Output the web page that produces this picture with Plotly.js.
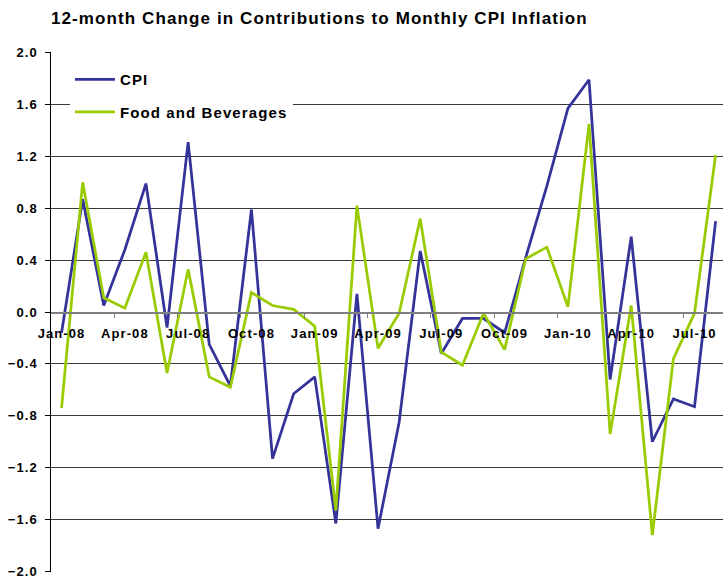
<!DOCTYPE html>
<html>
<head>
<meta charset="utf-8">
<script src="https://cdn.plot.ly/plotly-3.0.1.min.js"></script>
<style>
html, body { margin: 0; padding: 0; background: #fff; }
#chart { width: 723px; height: 579px; }
text { letter-spacing: 1.1px; }
</style>
</head>
<body>
<div id="chart"></div>
<script>
var months = ["Jan-08","Feb-08","Mar-08","Apr-08","May-08","Jun-08","Jul-08","Aug-08","Sep-08","Oct-08","Nov-08","Dec-08",
              "Jan-09","Feb-09","Mar-09","Apr-09","May-09","Jun-09","Jul-09","Aug-09","Sep-09","Oct-09","Nov-09","Dec-09",
              "Jan-10","Feb-10","Mar-10","Apr-10","May-10","Jun-10","Jul-10","Aug-10"];
var cpi  = [-0.16, 0.87, 0.05, 0.48, 0.99, -0.12, 1.31, -0.25, -0.57, 0.79, -1.13, -0.63,
            -0.50, -1.63, 0.14, -1.67, -0.85, 0.47, -0.32, -0.05, -0.05, -0.16, 0.42, 0.97,
             1.57, 1.79, -0.52, 0.58, -1.00, -0.67, -0.73, 0.70];
var food = [-0.74, 1.00, 0.11, 0.03, 0.46, -0.47, 0.33, -0.50, -0.58, 0.15, 0.05, 0.02,
            -0.11, -1.53, 0.82, -0.28, -0.01, 0.72, -0.31, -0.41, -0.01, -0.29, 0.41, 0.50,
             0.04, 1.45, -0.94, 0.05, -1.72, -0.36, -0.01, 1.21];
var seriesNames = ["CPI", "Food and Beverages"];
var titleText = "12-month Change in Contributions to Monthly CPI Inflation";

var idx = months.map(function (m, i) { return i; });
var tickIdx = idx.filter(function (i) { return i % 3 === 0; });
var tickText = tickIdx.map(function (i) { return months[i]; });
var boundIdx = idx.filter(function (i) { return i % 3 === 2 && i < months.length - 1; }).map(function (i) { return i + 0.5; });

var fontFam = "Arial, 'Liberation Sans', sans-serif";

var traces = [
  { x: idx, y: cpi, name: seriesNames[0], type: "scatter", mode: "lines",
    line: { color: "#333399", width: 2.75 }, legendgroup: "a", hoverinfo: "x+y" },
  { x: idx, y: food, name: seriesNames[1], type: "scatter", mode: "lines",
    line: { color: "#99CC00", width: 2.75 }, legendgroup: "b", hoverinfo: "x+y" }
];

var layout = {
  width: 723, height: 579,
  margin: { l: 51, r: 0, t: 52, b: 7, pad: 0 },
  paper_bgcolor: "#ffffff", plot_bgcolor: "#ffffff",
  font: { family: fontFam, size: 13, color: "#000000", weight: 700 },
  title: { text: titleText, x: 0, xanchor: "left", xref: "paper",
           y: 1 - 18 / 579, yanchor: "middle", yref: "container",
           font: { family: fontFam, size: 17, weight: 700, color: "#000000" } },
  showlegend: true,
  legend: { x: (70 - 51) / 672, y: 1 - (63 - 52) / 520, xanchor: "left", yanchor: "top",
            bgcolor: "#ffffff", borderwidth: 0, traceorder: "grouped", tracegroupgap: 10,
            itemwidth: 40,
            font: { family: fontFam, size: 15, weight: 700, color: "#000000" } },
  xaxis: {
    type: "linear", range: [-0.5, 31.35], anchor: "free", position: 0.5,
    showgrid: false, zeroline: false, showline: true, linecolor: "#808080", linewidth: 1.5,
    tickmode: "array", tickvals: tickIdx, ticktext: tickText, ticks: "", ticklabelstandoff: 9,
    minor: { tickmode: "array", tickvals: boundIdx, ticks: "outside", ticklen: 4, tickcolor: "#808080", tickwidth: 1, showgrid: false },
    tickfont: { family: fontFam, size: 13, weight: 700, color: "#000000" },
    fixedrange: true
  },
  yaxis: {
    range: [-2.004, 2.004], tickmode: "linear", tick0: -2, dtick: 0.4, tickformat: ".1f",
    showgrid: true, gridcolor: "#3a3a3a", gridwidth: 1, zeroline: false,
    showline: true, linecolor: "#000000", linewidth: 1.5,
    ticks: "outside", ticklen: 5, tickcolor: "#000000", ticklabelstandoff: 4,
    ticklabeloverflow: "allow",
    tickfont: { family: fontFam, size: 13, weight: 700, color: "#000000" },
    fixedrange: true
  }
};

Plotly.newPlot("chart", traces, layout, { displayModeBar: false, staticPlot: true });
</script>
</body>
</html>
